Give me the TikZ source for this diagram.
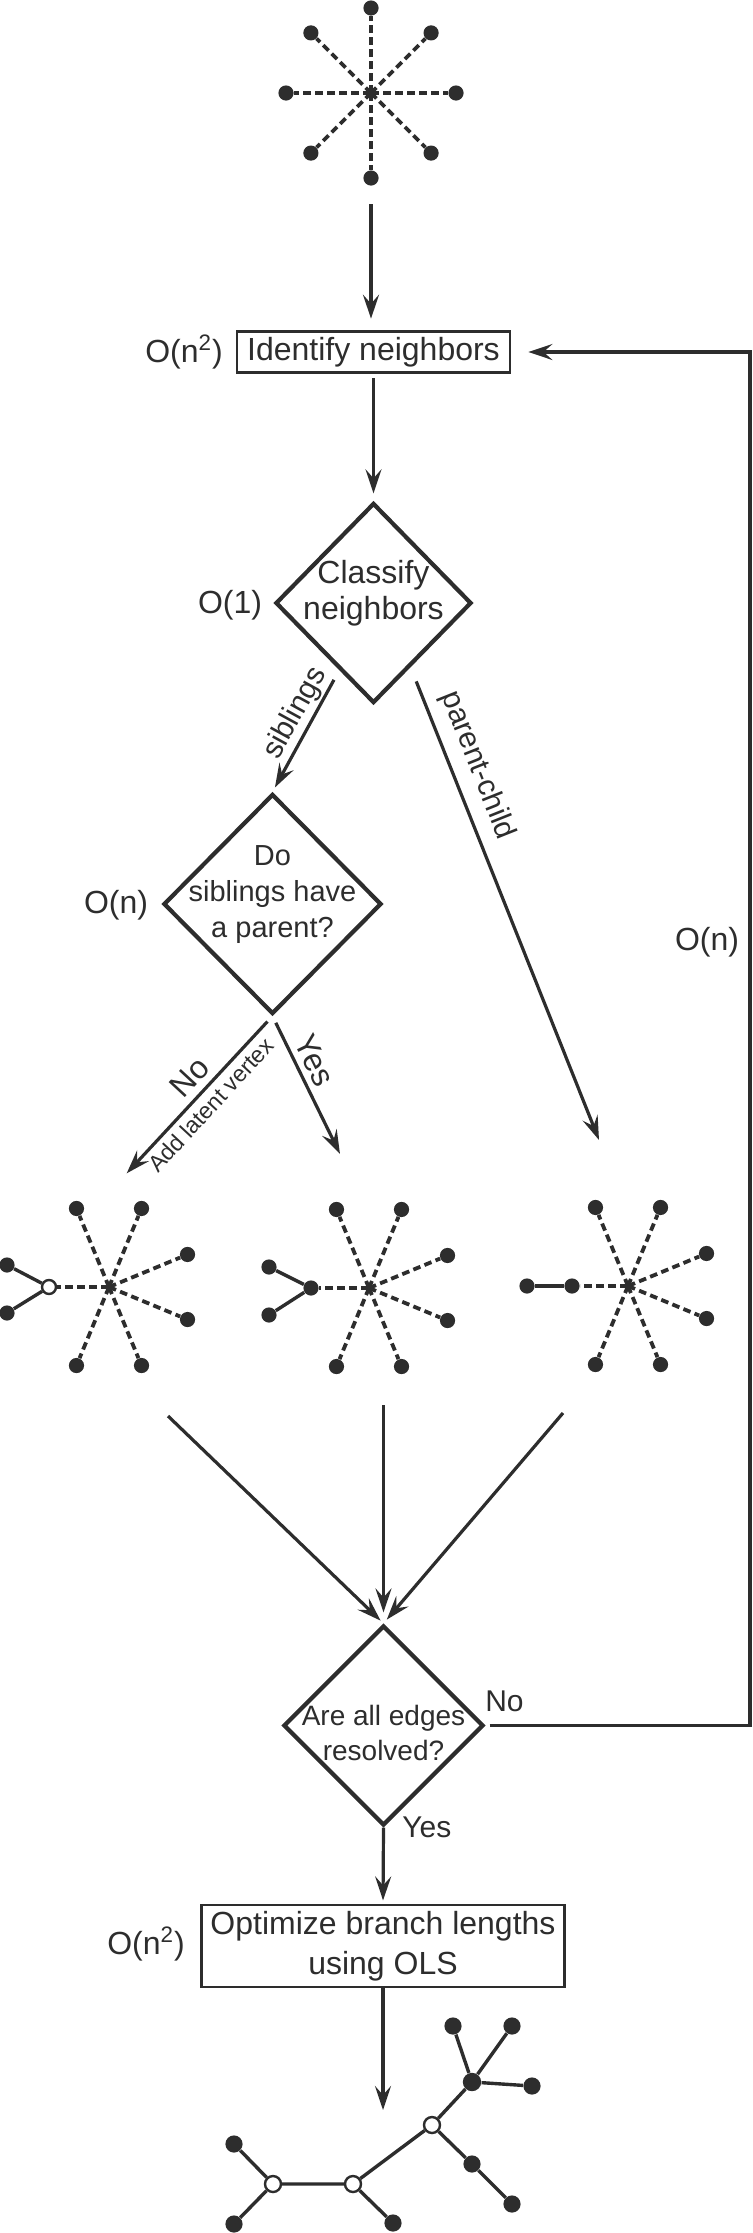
\documentclass[tikz,border=0pt]{standalone}
\usepackage{fontspec}
\setmainfont{Liberation Sans}
\usepackage{tikz}
\usetikzlibrary{arrows.meta,shapes.geometric}
\definecolor{ink}{RGB}{45,45,45}
\newcommand{\dtext}[2][0pt]{\smash{\makebox[0pt]{\raisebox{#1}{\begin{tabular}{@{}c@{}}#2\end{tabular}}}}}

\begin{document}
\begin{tikzpicture}[x=0.5pt, y=-0.5pt, color=ink,
  spoke/.style={line width=1.9pt, dash pattern=on 3.8pt off 2.2pt},
  branch/.style={line width=1.7pt},
  leaf/.style={circle, fill=ink, inner sep=0pt, minimum size=7.6pt},
  bigleaf/.style={circle, fill=ink, inner sep=0pt, minimum size=8.6pt},
  hollow/.style={circle, draw=ink, fill=white, line width=1.2pt, inner sep=0pt, minimum size=7pt},
  procbox/.style={draw, line width=1.4pt, inner xsep=2pt, inner ysep=2pt, align=center, font=\fontsize{16}{20}\selectfont},
  decide/.style={diamond, draw, line width=2.1pt, inner sep=0pt, font=\fontsize{14.5}{18}\selectfont},
  arr/.style={line width=1.6pt, -{Stealth[length=12pt, width=8pt, inset=4.5pt]}},
  lbl/.style={font=\fontsize{15}{18}\selectfont, inner sep=1pt},
  cost/.style={font=\fontsize{16}{18}\selectfont}]

\useasboundingbox (0,0) rectangle (752,2233);

% start: star tree
\coordinate (st0) at (371,93);
\foreach \a [count=\i] in {0,45,...,315}{
  \path (st0) ++(\a:85) node[leaf] (st0-\i) {};
  \draw[spoke] (st0) -- (st0-\i);
}

% main steps
\node[procbox, minimum width=136.5pt, minimum height=20.3pt] (idn) at (373.5,352) {Identify neighbors};
\node[cost] (cidn) at (184,352) {O(n\textsuperscript{2})};

\node[decide, minimum width=98pt, minimum height=100pt, font=\fontsize{16}{18}\selectfont] (cls) at (373.5,603) {\dtext{Classify\\neighbors}};
\node[cost] (ccls) at (230,605) {O(1)};

\node[decide, minimum width=109pt, minimum height=110pt] (dop) at (272.5,904) {\dtext[1.5pt]{Do\\siblings have\\a parent?}};
\node[cost] (cdop) at (116,905) {O(n)};

\node[decide, minimum width=100pt, minimum height=100pt, font=\fontsize{14}{17.5}\selectfont] (are) at (383.5,1725.5) {\dtext[-9pt]{Are all edges\\resolved?}};

\node[procbox, minimum width=181.8pt, minimum height=41pt] (ols) at (383,1946) {Optimize branch lengths\\using OLS};
\node[cost] (cols) at (146,1944) {O(n\textsuperscript{2})};

\node[cost] (cloop) at (707,942) {O(n)};

% the three cases
\foreach \k/\x/\y in {1/109/1287, 2/369/1288, 3/628/1286}{
  \coordinate (st\k) at (\x,\y);
  \foreach \a [count=\i] in {22.5,67.5,112.5,247.5,292.5,337.5}{
    \path (st\k) ++(\a:85) node[leaf] (st\k-\i) {};
    \draw[spoke] (st\k) -- (st\k-\i);
  }
}

\node[hollow] (st1-n) at (49,1287) {};
\node[leaf] (st1-a) at (7,1265) {};
\node[leaf] (st1-b) at (7,1313) {};
\draw[spoke] (st1) -- (st1-n);
\draw[branch] (st1-a) -- (st1-n) -- (st1-b);

\node[leaf] (st2-n) at (311,1288) {};
\node[leaf] (st2-a) at (269,1267) {};
\node[leaf] (st2-b) at (269,1315) {};
\draw[spoke] (st2) -- (st2-n);
\draw[branch] (st2-a) -- (st2-n) -- (st2-b);

\node[leaf] (st3-n) at (572,1286) {};
\node[leaf] (st3-a) at (527,1286) {};
\draw[spoke] (st3) -- (st3-n);
\draw[branch] (st3-a) -- (st3-n);

% arrows
\coordinate (ar0) at (371,204);
\draw[arr, shorten >=5.8pt] (ar0) -- (ar0 |- idn.north);
\draw[arr, shorten <=2.3pt, shorten >=3.8pt] (idn.south) -- (cls.north);

\draw[arr, shorten <=5.5pt, shorten >=2.5pt] (cls.-117) -- node[lbl, pos=0.424, above=0pt, sloped] (lsib) {siblings} (dop.north);
\coordinate (pcend) at (599,1140);
\draw[arr, shorten <=7.6pt] (cls.-60) -- node[lbl, pos=0.228, above=4pt, sloped] (lpc) {parent-child} (pcend);

\coordinate (noend) at (126.7,1173.3);
\draw[arr, shorten <=3.7pt] (dop.south) -- node[lbl, pos=0.47, above=2.3pt, sloped, font=\fontsize{16}{18}\selectfont] (lno) {No}
  node[lbl, pos=0.5, below=1.6pt, sloped, font=\fontsize{11.5}{14}\selectfont] (llat) {Add latent vertex} (noend);
\coordinate (yesend) at (340,1154);
\draw[arr, shorten <=3.7pt] (dop.south) -- node[lbl, pos=0.38, above=1.8pt, sloped, font=\fontsize{16}{18}\selectfont] (lyes) {Yes} (yesend);

\coordinate (ar1) at (168,1416);
\coordinate (ar2) at (383.5,1405);
\coordinate (ar3) at (563,1413);
\draw[arr, shorten >=2pt] (ar1) -- (are.north);
\draw[arr, shorten >=5.5pt] (ar2) -- (are.north);
\draw[arr, shorten >=2.5pt] (ar3) -- (are.north);

\coordinate (loopc) at (750,352);
\draw[arr, line width=1.7pt, shorten <=2pt, shorten >=8.5pt] (are.east) -| node[lbl, pos=0, anchor=south west, xshift=-2pt, yshift=5pt] (lnoloop) {No} (loopc) -- (idn.east);
\draw[arr, shorten >=1.6pt] (are.south) -- node[lbl, pos=0, anchor=west, xshift=7.6pt] (lyesend) {Yes} (ols.north);

% result tree
\coordinate (treetop) at (383,2110);
\draw[arr] (ols.south) -- (treetop);

\node[hollow, minimum size=8pt] (ta) at (273,2184) {};
\node[hollow, minimum size=8pt] (tb) at (353,2184) {};
\node[hollow, minimum size=8pt] (tc) at (432,2125) {};
\node[bigleaf, minimum size=9.2pt] (td) at (472,2082) {};
\node[bigleaf] (te) at (472,2164) {};
\foreach \n/\x/\y in {tl1/234/2144, tl2/234/2224, tl3/393/2223, tl4/512/2204, tl5/453/2026, tl6/512/2026, tl7/532/2086}{
  \node[bigleaf] (\n) at (\x,\y) {};
}
\draw[branch] (tl1) -- (ta) -- (tl2);
\draw[branch] (ta) -- (tb) -- (tl3);
\draw[branch] (tb) -- (tc) -- (td);
\draw[branch] (tc) -- (te) -- (tl4);
\draw[branch] (td) -- (tl5);
\draw[branch] (td) -- (tl6);
\draw[branch] (td) -- (tl7);

\end{tikzpicture}
\end{document}
